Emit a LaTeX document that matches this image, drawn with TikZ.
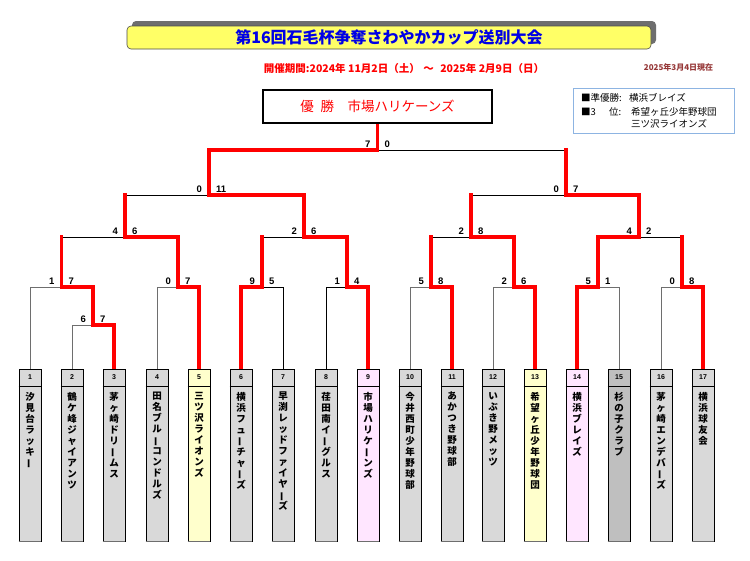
\documentclass[tikz,border=0pt]{standalone}
\usepackage{fontspec}
\setmainfont{Liberation Sans}
\newfontfamily\jp{Noto Sans CJK JP}
\usetikzlibrary{backgrounds}
\definecolor{teamgray}{RGB}{217,217,217}
\definecolor{teamyel}{RGB}{255,255,204}
\definecolor{teampink}{RGB}{255,230,255}
\definecolor{teamdark}{RGB}{191,191,191}
\definecolor{titleyel}{RGB}{255,255,102}
\definecolor{titleblue}{RGB}{0,0,230}
\definecolor{winred}{RGB}{255,0,0}
\definecolor{legendblue}{RGB}{141,180,226}
\definecolor{datebrown}{RGB}{150,55,55}
\definecolor{leafgray}{RGB}{110,110,110}
\newcommand\chouon{\rotatebox[origin=c]{90}{ー}}
\begin{document}
\begin{tikzpicture}[x=1pt,y=-1pt,
  wpath/.style={winred,line width=3.5pt,line cap=rect,line join=miter},
  bpath/.style={black,line width=0.9pt},
  gpath/.style={leafgray,line width=1pt},
  teambox/.style={draw=black,line width=0.8pt,minimum width=22pt,minimum height=172pt,inner sep=0pt},
  numfont/.style={font=\bfseries\fontsize{7}{8}\selectfont,inner sep=0pt},
  namefont/.style={font=\jp\bfseries\fontsize{9.5}{11}\selectfont,align=center,inner sep=0pt},
  score/.style={font=\bfseries\fontsize{9.5}{11}\selectfont,inner sep=0pt}]
\useasboundingbox (0,0) rectangle (750,560);

% title
\node[fill=leafgray,rounded corners=4pt,minimum width=524pt,minimum height=23pt,inner sep=0pt] (shadow) at (394,32.5) {};
\node[fill=titleyel,draw=black!70,line width=0.6pt,rounded corners=4pt,minimum width=524pt,minimum height=23pt,inner sep=0pt,
  font=\jp\bfseries\fontsize{16}{18}\selectfont,text=titleblue] (title) at (389,37.5) {第16回石毛杯争奪さわやかカップ送別大会};
\node[font=\jp\bfseries\fontsize{10.5}{12}\selectfont,text=red,inner sep=0pt] (period) at (404,69) {開催期間:2024年 11月2日（土）\hspace{0.35em}～\hspace{0.6em}2025年 2月9日（日）};
\node[font=\jp\bfseries\fontsize{8}{9}\selectfont,text=datebrown,inner sep=0pt] (date) at (678.5,67) {2025年3月4日現在};

% legend
\node[draw=legendblue,line width=1pt,minimum width=161pt,minimum height=45pt,inner sep=0pt] (legend) at (653.5,110.5) {};
\begin{scope}[every node/.style={font=\jp\fontsize{9.5}{11}\selectfont,inner sep=0pt,anchor=west}]
\node (lg1) at (581,98) {■準優勝:};
\node (lg1b) at (629,98) {横浜ブレイズ};
\node (lg2) at (581,112) {■3};
\node (lg2a) at (609,112) {位:};
\node (lg2b) at (631,112) {希望ヶ丘少年野球団};
\node (lg3) at (631,123.5) {三ツ沢ライオンズ};
\end{scope}

% champion
\node[draw=black,line width=2.5pt,fill=white,minimum width=229pt,minimum height=33pt,inner sep=0pt,
  font=\jp\fontsize{13.5}{15}\selectfont,text=red] (champ) at (377.5,106.5) {優\hspace{0.5em}勝\hspace{1em}市場ハリケーンズ};

% bracket coordinates
\foreach \i/\x in {1/30,2/72,3/114,4/157,5/199,6/241,7/283,8/326,9/368,10/410,11/452,12/493,13/535,14/577,15/619,16/661,17/703}
  \coordinate (t\i) at (\x,369);
\coordinate (m23) at (93,325);
\coordinate (m1) at (61.5,287);
\coordinate (m45) at (178,287);
\coordinate (m67) at (262,287);
\coordinate (m89) at (347,287);
\coordinate (m1011) at (431,287);
\coordinate (m1213) at (514,287);
\coordinate (m1415) at (598,287);
\coordinate (m1617) at (682,287);
\coordinate (qA) at (125,237);
\coordinate (qB) at (304,237);
\coordinate (qC) at (471,237);
\coordinate (qD) at (639,237);
\coordinate (sL) at (209,195);
\coordinate (sR) at (566,195);
\coordinate (fin) at (377.5,150);

\begin{scope}[on background layer]
\fill[white] (0,0) rectangle (750,560);
% losers
\draw[gpath] (t1) |- (m1);
\draw[gpath] (t2) |- (m23);
\draw[gpath] (t4) |- (m45);
\draw[bpath] (t7) |- (m67);
\draw[bpath] (t8) |- (m89);
\draw[gpath] (t10) |- (m1011);
\draw[gpath] (t12) |- (m1213);
\draw[gpath] (t15) |- (m1415);
\draw[gpath] (t16) |- (m1617);
\draw[bpath] (m1 |- qA) -- (qA);
\draw[bpath] (m67 |- qB) -- (qB);
\draw[bpath] (m1011 |- qC) -- (qC);
\draw[bpath] (m1617 |- qD) -- (qD);
\draw[bpath] (qA |- sL) -- (sL);
\draw[bpath] (qC |- sR) -- (sR);
\draw[bpath] (sR |- fin) -- (fin);
% winners
\draw[wpath] (t3) |- (m23) |- (m1) -- (m1 |- qA);
\draw[wpath] (t5) |- (m45) |- (qA) -- (qA |- sL);
\draw[wpath] (t6) |- (m67) -- (m67 |- qB);
\draw[wpath] (t9) |- (m89) |- (qB) |- (sL) |- (fin) -- (fin |- champ.south);
\draw[wpath] (t11) |- (m1011) -- (m1011 |- qC);
\draw[wpath] (t13) |- (m1213) |- (qC) -- (qC |- sR);
\draw[wpath] (t14) |- (m1415) |- (qD) |- (sR) -- (sR |- fin);
\draw[wpath] (t17) |- (m1617) -- (m1617 |- qD);
\end{scope}

% scores
\foreach \m/\l/\r in {m23/6/7,m1/1/7,m45/0/7,m67/9/5,m89/1/4,m1011/5/8,m1213/2/6,m1415/5/1,m1617/0/8,qA/4/6,qB/2/6,qC/2/8,qD/4/2,sL/0/11,sR/0/7,fin/7/0}{
  \node[score,anchor=south east] (\m-l) at ([xshift=-7pt,yshift=2.5pt]\m) {\l};
  \node[score,anchor=south west] (\m-r) at ([xshift=7pt,yshift=2.5pt]\m) {\r};
}

% team boxes
\foreach \i/\x/\c/\nm in {
1/30/teamgray/{汐\\見\\台\\ラ\\ッ\\キ\\\chouon},
2/72/teamgray/{鶴\\ケ\\峰\\ジ\\ャ\\イ\\ア\\ン\\ツ},
3/114/teamgray/{茅\\ヶ\\崎\\ド\\リ\\\chouon\\ム\\ス},
4/157/teamgray/{田\\名\\ブ\\ル\\\chouon\\コ\\ン\\ド\\ル\\ズ},
5/199/teamyel/{三\\ツ\\沢\\ラ\\イ\\オ\\ン\\ズ},
6/241/teamgray/{横\\浜\\フ\\ュ\\\chouon\\チ\\ャ\\\chouon\\ズ},
7/283/teamgray/{早\\渕\\レ\\ッ\\ド\\フ\\ァ\\イ\\ヤ\\\chouon\\ズ},
8/326/teamgray/{荏\\田\\南\\イ\\\chouon\\グ\\ル\\ス},
9/368/teampink/{市\\場\\ハ\\リ\\ケ\\\chouon\\ン\\ズ},
10/410/teamgray/{今\\井\\西\\町\\少\\年\\野\\球\\部},
11/452/teamgray/{あ\\か\\つ\\き\\野\\球\\部},
12/493/teamgray/{い\\ぶ\\き\\野\\メ\\ッ\\ツ},
13/535/teamyel/{希\\望\\ヶ\\丘\\少\\年\\野\\球\\団},
14/577/teampink/{横\\浜\\ブ\\レ\\イ\\ズ},
15/619/teamdark/{杉\\の\\子\\ク\\ラ\\ブ},
16/661/teamgray/{茅\\ヶ\\崎\\エ\\ン\\デ\\バ\\\chouon\\ズ},
17/703/teamgray/{横\\浜\\球\\友\\会}}{
  \node[teambox,fill=\c] (b\i) at (\x,455) {};
  \draw[black,line width=0.8pt] (b\i.west |- 0,386) -- (b\i.east |- 0,386);
  \draw[leafgray,line width=1pt] (b\i.south west) -- (b\i.south east);
  \node[numfont] (n\i) at (\x,377.5) {\i};
  \node[namefont,anchor=north] (nm\i) at (\x,392) {\nm};
}
\end{tikzpicture}
\end{document}
